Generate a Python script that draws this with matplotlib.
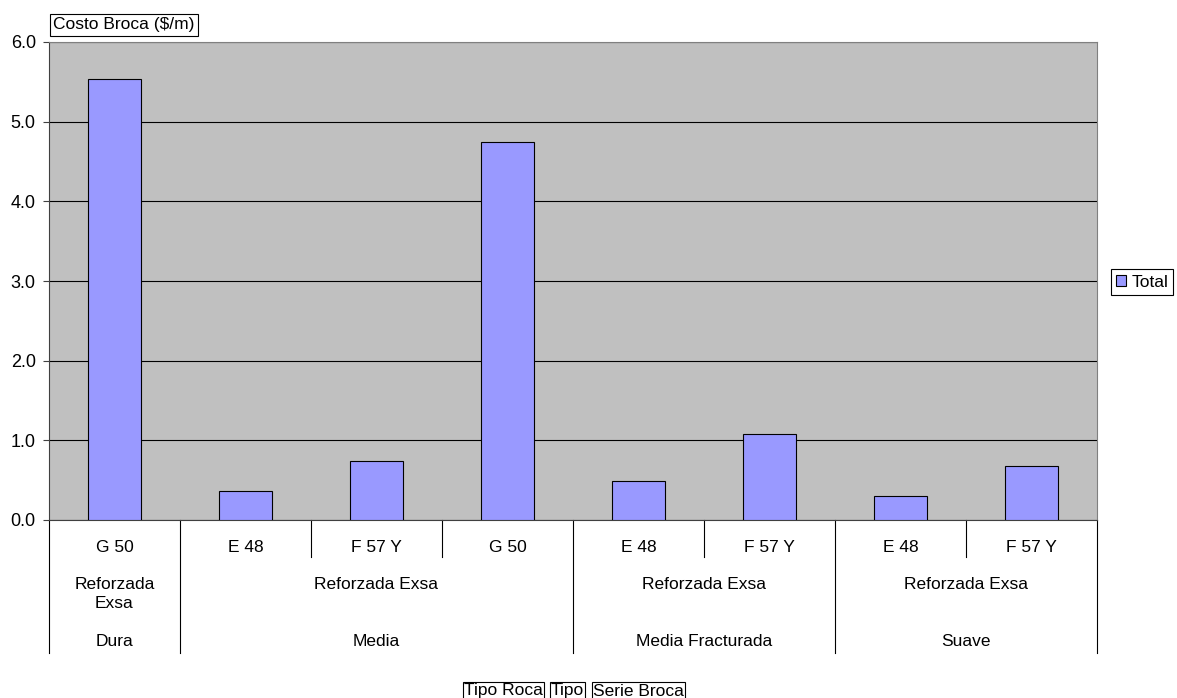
import matplotlib.pyplot as plt
import matplotlib.transforms as mtransforms
from matplotlib.ticker import FormatStrFormatter

plt.rcParams['font.family'] = ['Liberation Sans', 'DejaVu Sans']
plt.rcParams['font.size'] = 12.5

tipo_roca = ['Dura', 'Media', 'Media Fracturada', 'Suave']
roca_span = [(0, 0), (1, 3), (4, 5), (6, 7)]
tipo = ['Reforzada\nExsa', 'Reforzada Exsa', 'Reforzada Exsa', 'Reforzada Exsa']
serie = ['G 50', 'E 48', 'F 57 Y', 'G 50', 'E 48', 'F 57 Y', 'E 48', 'F 57 Y']
costo = [5.53, 0.37, 0.74, 4.74, 0.49, 1.08, 0.30, 0.68]

W, H = 1177, 698
fig = plt.figure(figsize=(W / 100, H / 100), dpi=100)
ax = fig.add_axes([49 / W, 1 - 520 / H, (1097 - 49) / W, (520 - 42) / H])
ax.set_facecolor('#C0C0C0')

x = list(range(len(serie)))
ax.bar(x, costo, width=0.4, color='#9999FF', edgecolor='black', linewidth=0.8,
       label='Total', zorder=3)
ax.set_xlim(-0.5, len(serie) - 0.5)
ax.set_ylim(0, 6)
ax.set_yticks([0, 1, 2, 3, 4, 5, 6])
ax.yaxis.set_major_formatter(FormatStrFormatter('%.1f'))
ax.grid(True, axis='y', color='black', linewidth=0.8, zorder=1)
ax.set_xticks([])
ax.tick_params(axis='y', direction='out', length=4.5, width=0.8, color='#404040',
               labelsize=13, pad=5)
for s in ax.spines.values():
    s.set_color('#808080')
    s.set_linewidth(0.8)
ax.spines['left'].set_color('#404040')
ax.spines['bottom'].set_color('#404040')

# multi-level category axis
blend = mtransforms.blended_transform_factory(ax.transData, fig.transFigure)


def fy(px):
    return 1 - px / H


def vline(xv, y0, y1):
    ax.plot([xv, xv], [fy(y0), fy(y1)], transform=blend, color='black',
            linewidth=0.8, clip_on=False)


for i, s in enumerate(serie):
    ax.text(i, fy(548), s, transform=blend, ha='center', va='center')

for (a, b), t, r in zip(roca_span, tipo, tipo_roca):
    cx = (a + b) / 2
    ax.text(cx, fy(577), t, transform=blend, ha='center', va='top', linespacing=1.35)
    ax.text(cx, fy(642), r, transform=blend, ha='center', va='center')
    vline(a - 0.5, 520, 653)
    for k in range(a, b):
        vline(k + 0.5, 520, 557)
vline(len(serie) - 0.5, 520, 653)

fig.text(124 / W, fy(25), 'Costo Broca ($/m)', ha='center', va='center',
         bbox=dict(facecolor='white', edgecolor='black', linewidth=0.8, pad=2.5))

fig.legend(loc='center', bbox_to_anchor=(1142 / W, fy(282)), frameon=True,
           fancybox=False, edgecolor='black', framealpha=1, handlelength=0.6,
           handleheight=0.6, handletextpad=0.3, borderpad=0.3, borderaxespad=0)
fig.legends[0].get_frame().set_linewidth(0.8)

for cx, t in [(503.5, 'Tipo Roca'), (567.5, 'Tipo'), (638.5, 'Serie Broca')]:
    fig.text(cx / W, fy(691), t, ha='center', va='center',
             bbox=dict(facecolor='white', edgecolor='black', linewidth=0.8, pad=0.8))

fig.savefig('out.png', dpi=100)
